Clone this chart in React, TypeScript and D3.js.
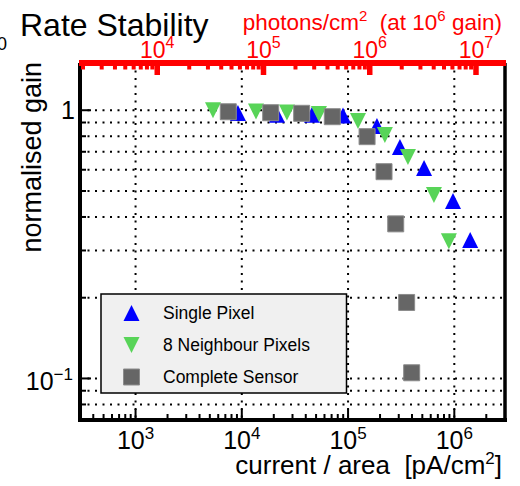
import React from 'react';
import * as d3 from 'd3';

// ---- data ----
const singleX = [9200, 21400, 45800, 89600, 187000, 308000, 519000, 972000, 1410000];
const singleY = [0.977, 0.962, 0.962, 0.956, 0.873, 0.729, 0.609, 0.459, 0.328];
const neighX = [5360, 13600, 26600, 53200, 124000, 222000, 366000, 643000, 889000];
const neighY = [1.0, 0.989, 0.981, 0.968, 0.912, 0.809, 0.669, 0.483, 0.325];
const sensorX = [7460, 18700, 36600, 71100, 151000, 218000, 281000, 356000, 397000];
const sensorY = [0.987, 0.979, 0.974, 0.946, 0.797, 0.59, 0.377, 0.192, 0.105];

const seriesNames = ['Single Pixel', '8 Neighbour Pixels', 'Complete Sensor'];
const xDomain = [300, 3e6];
const yDomain = [0.07, 1.5];
const xLabelExps = [3, 4, 5, 6];
const topLabelExps = [4, 5, 6, 7];
const yGridValues = [0.08, 0.09, 0.1, 0.2, 0.3, 0.4, 0.5, 0.6, 0.7, 0.8, 0.9, 1.0];
const photonsPerPA = 6.25; // photons/cm^2 per pA/cm^2 at 10^6 gain

const W = 520, H = 486;
const L = 80, R = 505, T = 63, B = 420;
const FONT = '"Liberation Sans", Arial, Helvetica, sans-serif';
const BLUE = '#0000ff';
const GREEN = '#58d458';
const GRAY = '#666666';
const RED = '#ff0000';

function logTicks(lo: number, hi: number) {
  const out: { v: number; major: boolean }[] = [];
  for (let e = Math.floor(Math.log10(lo)); e <= Math.ceil(Math.log10(hi)); e++) {
    for (let k = 1; k <= 9; k++) {
      const v = k * Math.pow(10, e);
      if (v >= lo * 0.999 && v <= hi * 1.001) out.push({ v, major: k === 1 });
    }
  }
  return out;
}

const triUp = (s: number) => `M0,${-s / 2}L${s / 2},${s / 2}L${-s / 2},${s / 2}Z`;
const triDown = (s: number) => `M0,${s / 2}L${s / 2},${-s / 2}L${-s / 2},${-s / 2}Z`;
const square = (s: number) => `M${-s / 2},${-s / 2}h${s}v${s}h${-s}Z`;

function Marker({ kind, cx, cy }: { kind: number; cx: number; cy: number }) {
  if (kind === 0) return <path d={triUp(16)} transform={`translate(${cx},${cy})`} fill={BLUE} />;
  if (kind === 1) return <path d={triDown(16)} transform={`translate(${cx},${cy})`} fill={GREEN} />;
  return <path d={square(16)} transform={`translate(${cx},${cy})`} fill={GRAY} stroke="#8c8c8c" strokeWidth={1} />;
}

function Pow({ base, exp, size, supSize, ...rest }: any) {
  return (
    <text fontFamily={FONT} fontSize={size} {...rest}>
      {base}
      <tspan fontSize={supSize} dy={-size * 0.42}>{exp}</tspan>
    </text>
  );
}

export default function App() {
  const x = d3.scaleLog().domain(xDomain).range([L, R]);
  const y = d3.scaleLog().domain(yDomain).range([B, T]);
  const xTop = d3.scaleLog().domain([xDomain[0] * photonsPerPA, xDomain[1] * photonsPerPA]).range([L, R]);

  const dot = { stroke: '#000', strokeWidth: 2, strokeDasharray: '2 5.5' };
  const bottomTicks = logTicks(xDomain[0], xDomain[1]);
  const topTicks = logTicks(xDomain[0] * photonsPerPA, xDomain[1] * photonsPerPA);
  const leftTicks = logTicks(yDomain[0], yDomain[1]).filter((t) => t.v <= 1.0001);

  const series = [
    { xs: singleX, ys: singleY },
    { xs: neighX, ys: neighY },
    { xs: sensorX, ys: sensorY },
  ];
  const legendY = [313, 345, 377];

  return (
    <svg width={W} height={H} viewBox={`0 0 ${W} ${H}`} style={{ position: 'absolute', left: 0, top: 0, background: '#fff' }}>
      <rect x={0} y={0} width={W} height={H} fill="#fff" />
      {/* grid */}
      {yGridValues.map((v) => (
        <line key={'gy' + v} x1={L} x2={R} y1={y(v)} y2={y(v)} {...dot} />
      ))}
      {xLabelExps.map((e) => (
        <line key={'gx' + e} x1={x(Math.pow(10, e))} x2={x(Math.pow(10, e))} y1={T} y2={B} {...dot} />
      ))}

      {/* ticks */}
      {bottomTicks.map((t, i) => (
        <line key={'bt' + i} x1={x(t.v)} x2={x(t.v)} y1={B} y2={B - (t.major ? 11 : 6)} stroke="#000" strokeWidth={2} />
      ))}
      {leftTicks.map((t, i) => (
        <line key={'lt' + i} x1={L} x2={L + (t.major ? 11 : 6)} y1={y(t.v)} y2={y(t.v)} stroke="#000" strokeWidth={2} />
      ))}

      {/* frame */}
      <line x1={L} x2={L} y1={T} y2={B + 2} stroke="#000" strokeWidth={4} />
      <line x1={L - 2} x2={R + 2} y1={B} y2={B} stroke="#000" strokeWidth={4} />
      <line x1={R} x2={R} y1={T} y2={B + 2} stroke="#000" strokeWidth={3.5} />

      {/* data: blue, then green, then gray on top */}
      {series.map((s, k) =>
        s.xs.map((xv, i) => <Marker key={`m${k}-${i}`} kind={k} cx={x(xv)} cy={y(s.ys[i])} />)
      )}

      {/* legend */}
      <rect x={101} y={294} width={245.5} height={99} fill="#f0f0f0" stroke="#000" strokeWidth={1.5} />
      {seriesNames.map((n, k) => (
        <g key={'lg' + k}>
          <Marker kind={k} cx={131.5} cy={legendY[k]} />
          <text x={163} y={legendY[k] + 6} fontFamily={FONT} fontSize={17.5} fill="#000">{n}</text>
        </g>
      ))}

      {/* top red axis */}
      {topTicks.map((t, i) => (
        <line key={'tt' + i} x1={xTop(t.v)} x2={xTop(t.v)} y1={T} y2={T + (t.major ? 12 : 6.5)} stroke={RED} strokeWidth={t.major ? 5.5 : 4} />
      ))}
      <line x1={L - 1} x2={R + 1} y1={T} y2={T} stroke={RED} strokeWidth={6} />
      {topLabelExps.map((e) => (
        <Pow key={'tl' + e} base="10" exp={e} size={23} supSize={16} x={xTop(Math.pow(10, e))} y={58} textAnchor="middle" fill={RED} />
      ))}

      {/* bottom labels */}
      {xLabelExps.map((e) => (
        <Pow key={'xl' + e} base="10" exp={e} size={25} supSize={17} x={x(Math.pow(10, e))} y={449} textAnchor="middle" fill="#000" />
      ))}
      {/* left labels */}
      <text x={75} y={119} textAnchor="end" fontFamily={FONT} fontSize={25} fill="#000">1</text>
      <text x={73} y={390} textAnchor="end" fontFamily={FONT} fontSize={25} fill="#000">
        10<tspan fontSize={17} dy={-10.5}>−1</tspan>
      </text>

      {/* titles */}
      <text x={20} y={36} fontFamily={FONT} fontSize={32} fill="#000">Rate Stability</text>
      <text x={-3} y={50} fontFamily={FONT} fontSize={18} fill="#000">0</text>
      <text x={502} y={30} textAnchor="end" fontFamily={FONT} fontSize={22.5} fill={RED} style={{ whiteSpace: 'pre' }}>
        photons/cm<tspan fontSize={15} dy={-9}>2</tspan><tspan dy={9}>{'  (at 10'}</tspan><tspan fontSize={15} dy={-9}>6</tspan><tspan dy={9}>{' gain)'}</tspan>
      </text>
      <text x={502} y={474} textAnchor="end" fontFamily={FONT} fontSize={26} fill="#000" style={{ whiteSpace: 'pre' }}>
        {'current / area  [pA/cm'}<tspan fontSize={17} dy={-10}>2</tspan><tspan dy={10}>]</tspan>
      </text>
      <text transform="translate(41,62) rotate(-90)" textAnchor="end" fontFamily={FONT} fontSize={27} fill="#000">normalised gain</text>
    </svg>
  );
}
